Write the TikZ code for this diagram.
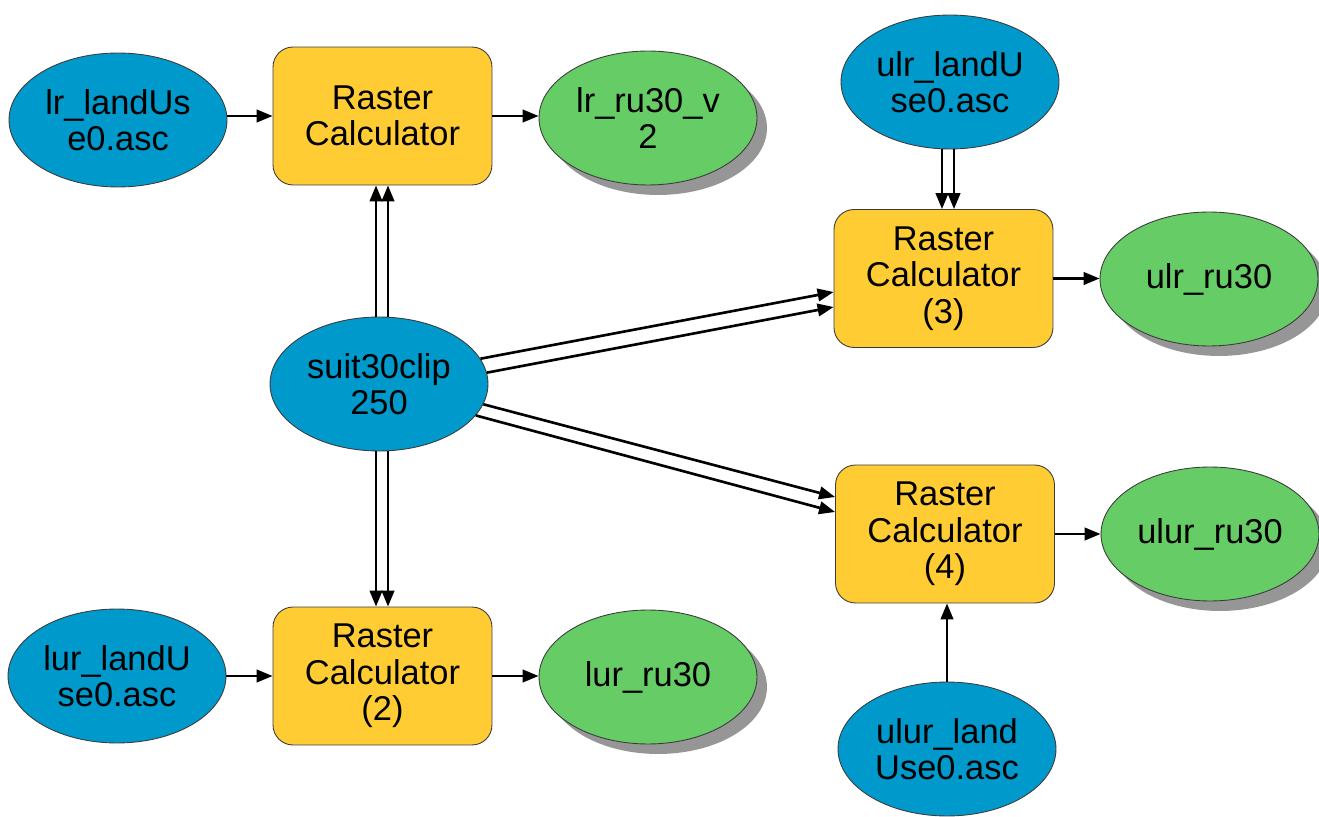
\documentclass[tikz,border=0pt]{standalone}
\usepackage{fontspec}
\setmainfont{Liberation Sans}
\usetikzlibrary{shapes.geometric,shadows,arrows.meta}
\definecolor{inblue}{RGB}{0,153,204}
\definecolor{toolyellow}{RGB}{255,204,51}
\definecolor{outgreen}{RGB}{102,204,102}
\definecolor{shadowgray}{RGB}{150,150,150}
\definecolor{edgegray}{RGB}{60,60,60}
\tikzset{
  every node/.style={font=\fontsize{19.6pt}{20.8pt}\selectfont, align=center, text=black},
  inputdata/.style={ellipse, draw=edgegray, line width=0.5pt, fill=inblue,
    minimum width=4.36cm, minimum height=2.68cm, inner sep=0pt},
  outputdata/.style={ellipse, draw=edgegray, line width=0.5pt, fill=outgreen,
    minimum width=4.36cm, minimum height=2.68cm, inner sep=0pt,
    drop shadow={shadow xshift=0.2cm, shadow yshift=-0.2cm, fill=shadowgray, opacity=1, draw=none}},
  toolbox/.style={rectangle, rounded corners=0.4cm, draw=edgegray, line width=0.5pt,
    fill=toolyellow, minimum width=4.38cm, minimum height=2.76cm, inner sep=0pt},
  arr/.style={-{Triangle[length=0.32cm, width=0.25cm]}, line width=1.5pt, black}
}
\begin{document}
\begin{tikzpicture}[x=0.02cm, y=-0.02cm]
\useasboundingbox (0,0) rectangle (1319,817);
% nodes
\node[inputdata]  (lr)      at (118,120)   {lr\_landUs\\e0.asc};
\node[toolbox]    (rc1)     at (382.5,116) {Raster\\Calculator};
\node[outputdata] (lrout)   at (648,118)   {lr\_ru30\_v\\2};
\node[inputdata]  (ulr)     at (950,82)    {ulr\_landU\\se0.asc};
\node[toolbox]    (rc3)     at (943.5,278.5) {Raster\\Calculator\\(3)};
\node[outputdata] (ulrout)  at (1209,279)  {ulr\_ru30};
\node[inputdata]  (suit)    at (379,384)   {suit30clip\\250};
\node[toolbox]    (rc4)     at (945,534)   {Raster\\Calculator\\(4)};
\node[outputdata] (ulurout) at (1210,534)  {ulur\_ru30};
\node[inputdata]  (lur)     at (117,676)   {lur\_landU\\se0.asc};
\node[toolbox]    (rc2)     at (382.5,676) {Raster\\Calculator\\(2)};
\node[outputdata] (lurout)  at (648,677)   {lur\_ru30};
\node[inputdata]  (ulurin)  at (947,749)   {ulur\_land\\Use0.asc};
% connectors
\draw[arr] (rc1.west -| lr.east) -- (rc1.west);
\draw[arr] (rc1.east) -- (rc1.east -| lrout.west);
\draw[arr] ([xshift=-0.13cm]rc1.south |- suit.north) -- ([xshift=-0.13cm]rc1.south);
\draw[arr] ([xshift=0.11cm]rc1.south |- suit.north) -- ([xshift=0.11cm]rc1.south);
\draw[arr] ([xshift=-0.13cm]rc2.north |- suit.south) -- ([xshift=-0.13cm]rc2.north);
\draw[arr] ([xshift=0.11cm]rc2.north |- suit.south) -- ([xshift=0.11cm]rc2.north);
\draw[arr] ([xshift=-0.03cm]rc3.north |- ulr.south) -- ([xshift=-0.03cm]rc3.north);
\draw[arr] ([xshift=0.21cm]rc3.north |- ulr.south) -- ([xshift=0.21cm]rc3.north);
\draw[arr] (suit.14.7) -- ([yshift=-0.27cm]rc3.west);
\draw[arr] (suit.6.9) -- ([yshift=-0.57cm]rc3.west);
\draw[arr] (suit.-11.2) -- ([yshift=0.74cm]rc4.west);
\draw[arr] (suit.-18.6) -- ([yshift=0.44cm]rc4.west);
\draw[arr] (rc3.east) -- (rc3.east -| ulrout.west);
\draw[arr] (rc4.east) -- (rc4.east -| ulurout.west);
\draw[arr] (ulurin.north) -- (ulurin.north |- rc4.south);
\draw[arr] (rc2.west -| lur.east) -- (rc2.west);
\draw[arr] (rc2.east) -- (rc2.east -| lurout.west);
\end{tikzpicture}
\end{document}
